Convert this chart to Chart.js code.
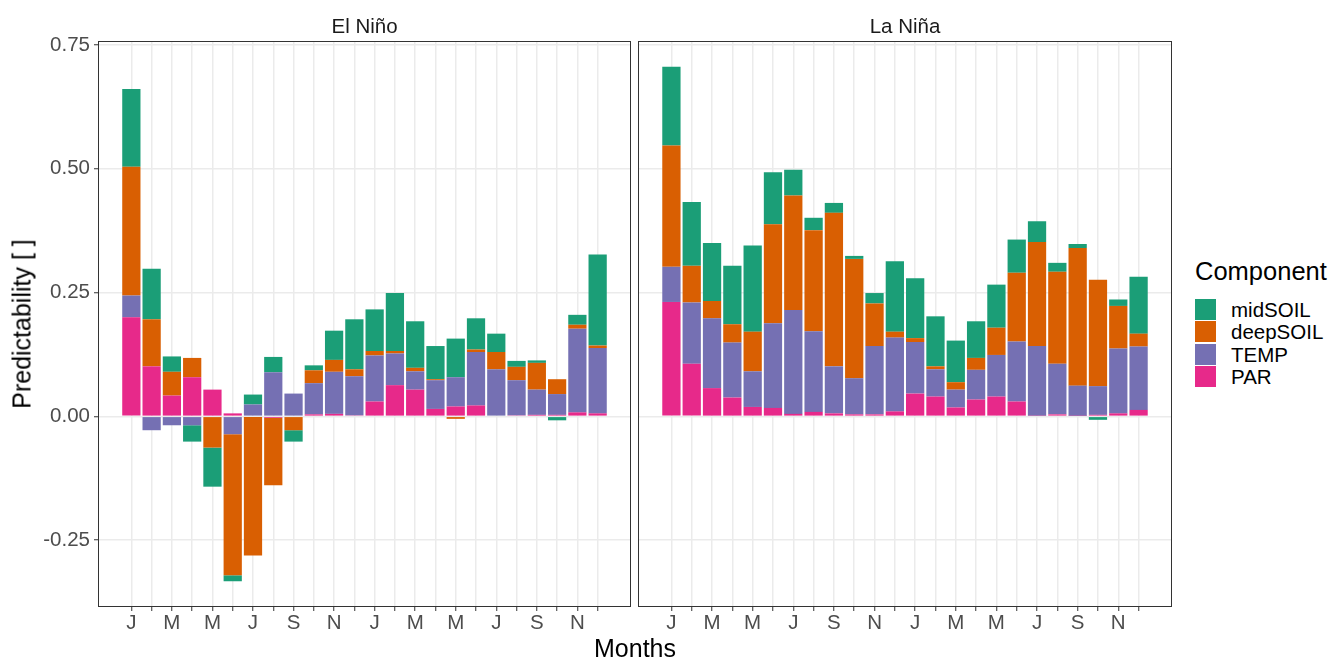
<!DOCTYPE html>
<html>
<head>
<meta charset="utf-8">
<script src="https://cdn.jsdelivr.net/npm/chart.js@4.4.1/dist/chart.umd.min.js"></script>
<style>
  html, body { margin: 0; padding: 0; background: #fff; }
  body { width: 1333px; height: 659px; position: relative; overflow: hidden;
         font-family: "Liberation Sans", Arial, Helvetica, sans-serif; }
  canvas { position: absolute; top: 0; }
  .txt { position: absolute; white-space: nowrap; line-height: 1; }
  .strip { top: 16px; font-size: 20.5px; color: #1a1a1a; transform: translateX(-50%); }
  .key { position: absolute; left: 1195px; width: 21px; height: 21px; }
  .klab { position: absolute; left: 1231px; font-size: 20.5px; color: #000; line-height: 21px; }
</style>
</head>
<body>
<canvas id="ninoChart" width="640" height="659" style="left:0px"></canvas>
<canvas id="ninaChart" width="560" height="659" style="left:632px"></canvas>

<div class="txt strip" style="left:364.5px">El Niño</div>
<div class="txt strip" style="left:905px">La Niña</div>
<div class="txt" style="left:22px; top:324px; font-size:25px; color:#000; transform: translate(-50%,-50%) rotate(-90deg);">Predictability [ ]</div>
<div class="txt" style="left:635px; top:636px; font-size:25px; color:#000; transform: translateX(-50%);">Months</div>
<div id="legend"></div>

<script>
// month positions 1..24 (two years, Jan..Dec)
const positions = [1,2,3,4,5,6,7,8,9,10,11,12,13,14,15,16,17,18,19,20,21,22,23,24];
const monthTicks = ['J','','M','','M','','J','','S','','N','','J','','M','','M','','J','','S','','N',''];
const yTicks = [-0.25, 0, 0.25, 0.5, 0.75];

// El Niño components
const ninoPAR      = [0.200, 0.101, 0.042, 0.079, 0.054, 0.006, 0.000, -0.003, 0.000, 0.004, 0.005, 0.002, 0.030, 0.063, 0.054, 0.015, 0.020, 0.022, 0.000, 0.002, 0.003, 0.003, 0.008, 0.006];
const ninoTEMP     = [0.044, -0.028, -0.018, -0.018, 0.000, -0.036, 0.024, 0.089, 0.046, 0.063, 0.085, 0.079, 0.093, 0.064, 0.037, 0.058, 0.059, 0.108, 0.095, 0.071, 0.051, 0.042, 0.169, 0.132];
const ninoDeepSOIL = [0.260, 0.095, 0.048, 0.039, -0.063, -0.285, -0.281, -0.136, -0.028, 0.026, 0.024, 0.014, 0.009, 0.005, 0.007, 0.002, -0.005, 0.005, 0.035, 0.027, 0.054, 0.030, 0.008, 0.005];
const ninoMidSOIL  = [0.157, 0.102, 0.031, -0.033, -0.079, -0.012, 0.020, 0.031, -0.023, 0.010, 0.059, 0.101, 0.084, 0.117, 0.094, 0.067, 0.078, 0.063, 0.037, 0.012, 0.005, -0.008, 0.020, 0.184];

// La Niña components
const ninaPAR      = [0.231, 0.106, 0.057, 0.038, 0.019, 0.017, 0.005, 0.009, 0.006, 0.004, 0.004, 0.010, 0.046, 0.040, 0.018, 0.034, 0.040, 0.030, 0.001, 0.004, 0.001, 0.003, 0.006, 0.013];
const ninaTEMP     = [0.071, 0.124, 0.141, 0.111, 0.072, 0.171, 0.210, 0.163, 0.095, 0.073, 0.138, 0.149, 0.104, 0.055, 0.036, 0.060, 0.084, 0.121, 0.141, 0.102, 0.061, 0.058, 0.131, 0.128];
const ninaDeepSOIL = [0.245, 0.074, 0.035, 0.037, 0.080, 0.200, 0.231, 0.204, 0.310, 0.241, 0.086, 0.012, 0.008, 0.006, 0.015, 0.024, 0.055, 0.139, 0.210, 0.186, 0.278, 0.215, 0.086, 0.026];
const ninaMidSOIL  = [0.159, 0.129, 0.117, 0.118, 0.174, 0.105, 0.052, 0.025, 0.020, 0.006, 0.021, 0.142, 0.121, 0.101, 0.084, 0.074, 0.087, 0.067, 0.042, 0.018, 0.008, -0.007, 0.013, 0.115];

// legend order (top to bottom) and Dark2 colours
const components = ['midSOIL', 'deepSOIL', 'TEMP', 'PAR'];
const componentColors = { midSOIL: '#1B9E77', deepSOIL: '#D95F02', TEMP: '#7570B3', PAR: '#E7298A' };

const fontFamily = '"Liberation Sans", Arial, Helvetica, sans-serif';

// panel border on top of everything
const panelBorder = {
    id: 'panelBorder',
    afterDraw(chart) {
        const a = chart.chartArea;
        const ctx = chart.ctx;
        ctx.save();
        ctx.strokeStyle = '#333333';
        ctx.lineWidth = 1;
        ctx.strokeRect(Math.round(a.left) + 0.5, Math.round(a.top) + 0.5,
                       Math.round(a.right - a.left) - 1, Math.round(a.bottom - a.top) - 1);
        ctx.restore();
    }
};

function makeDatasets(par, temp, deep, mid) {
    // first dataset sits next to zero, so PAR goes first
    const series = { PAR: par, TEMP: temp, deepSOIL: deep, midSOIL: mid };
    return ['PAR', 'TEMP', 'deepSOIL', 'midSOIL'].map(name => ({
        label: name,
        data: positions.map((p, i) => ({ x: p, y: series[name][i] })),
        backgroundColor: componentColors[name],
        borderWidth: 0,
        barPercentage: 0.9,
        categoryPercentage: 1.0
    }));
}

function makeChart(canvasId, datasets, showYLabels, padding) {
    return new Chart(document.getElementById(canvasId), {
        type: 'bar',
        data: { datasets: datasets },
        options: {
            responsive: false,
            animation: false,
            devicePixelRatio: 1,
            layout: { padding: padding },
            plugins: { legend: { display: false }, tooltip: { enabled: false } },
            scales: {
                x: {
                    type: 'linear',
                    stacked: true,
                    offset: false,
                    min: -0.645,
                    max: 25.645,
                    afterBuildTicks: scale => { scale.ticks = positions.map(v => ({ value: v })); },
                    afterFit: scale => { scale.height = 52; },
                    grid: { offset: false, color: '#EBEBEB', lineWidth: 1.5, tickColor: '#333333', tickLength: 4, tickWidth: 1 },
                    border: { display: false },
                    ticks: {
                        autoSkip: false,
                        maxRotation: 0,
                        padding: 0,
                        color: '#4D4D4D',
                        font: { family: fontFamily, size: 20.5 },
                        callback: v => monthTicks[v - 1] || ''
                    }
                },
                y: {
                    stacked: true,
                    min: -0.385,
                    max: 0.758,
                    afterBuildTicks: scale => { scale.ticks = yTicks.map(v => ({ value: v })); },
                    afterFit: scale => { scale.width = showYLabels ? 98 : 0; },
                    grid: { color: '#EBEBEB', lineWidth: 1.5, tickColor: '#333333', tickLength: 4, tickWidth: 1, drawTicks: showYLabels },
                    border: { display: false },
                    ticks: {
                        display: showYLabels,
                        padding: 4,
                        color: '#4D4D4D',
                        font: { family: fontFamily, size: 20.5 },
                        callback: v => v.toFixed(2)
                    }
                }
            }
        },
        plugins: [panelBorder]
    });
}

makeChart('ninoChart', makeDatasets(ninoPAR, ninoTEMP, ninoDeepSOIL, ninoMidSOIL), true,
          { left: 0, right: 9, top: 41, bottom: 0 });
makeChart('ninaChart', makeDatasets(ninaPAR, ninaTEMP, ninaDeepSOIL, ninaMidSOIL), false,
          { left: 6, right: 20, top: 41, bottom: 0 });

// legend
const legend = document.getElementById('legend');
let html = '<div class="txt" style="left:1195px; top:259px; font-size:25.5px; color:#000;">Component</div>';
components.forEach((name, i) => {
    const top = 299 + i * 22.3;
    html += '<div class="key" style="top:' + top + 'px; background:' + componentColors[name] + ';"></div>';
    html += '<div class="klab" style="top:' + top + 'px;">' + name + '</div>';
});
legend.innerHTML = html;
</script>
</body>
</html>
